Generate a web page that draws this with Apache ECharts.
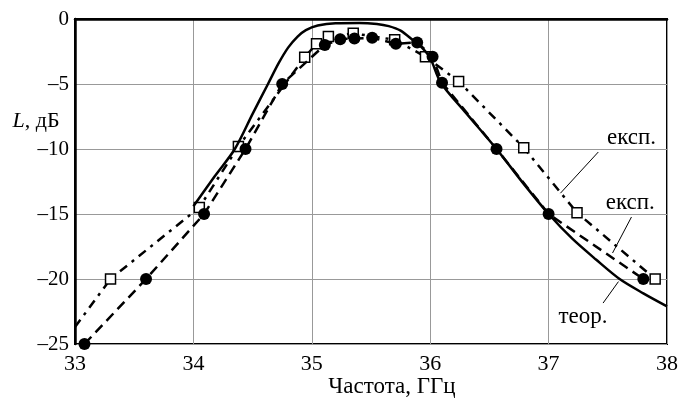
<!DOCTYPE html>
<html><head><meta charset="utf-8">
<script src="https://cdn.jsdelivr.net/npm/echarts@6/dist/echarts.min.js"></script>
<style>html,body{margin:0;padding:0;background:#fff}#c{width:685px;height:403px}</style>
</head><body><div id="c"></div>
<script>
// Theory curve (solid)
const theoryF = [34.0,34.18,34.35,34.5,34.63,34.72,34.8,34.88,34.95,35.05,35.2,35.4,35.55,35.65,35.75,35.85,35.93,36.0,36.09,36.3,36.56,36.8,37.0,37.2,37.4,37.6,37.8,38.0];
const theoryL = [-14.4,-12.1,-10,-7.3,-5,-3.4,-2.2,-1.35,-0.85,-0.5,-0.32,-0.3,-0.38,-0.55,-0.9,-1.6,-2.2,-3.0,-4.9,-7.2,-10,-12.8,-15,-16.9,-18.5,-20,-21.1,-22.1];
// Experiment 1 (filled circles, dashed)
const exp1F = [33.08,33.6,34.09,34.44,34.75,35.11,35.24,35.36,35.51,35.71,35.89,36.02,36.1,36.56,37.0,37.8];
const exp1L = [-25,-20,-15,-10,-5,-2.0,-1.55,-1.5,-1.45,-1.9,-1.8,-2.9,-4.9,-10,-15,-20];
// Experiment 2 (open squares, dash-dot)
const exp2F = [33.0,33.3,34.05,34.38,34.94,35.04,35.14,35.35,35.7,35.96,36.24,36.79,37.24,37.9];
const exp2L = [-23.7,-20,-14.5,-9.8,-2.95,-1.9,-1.35,-1.1,-1.6,-2.9,-4.8,-9.9,-14.9,-20];
const exp2Sym = [false,true,true,true,true,true,true,true,true,true,true,true,true,true];
const xTicks = [33,34,35,36,37,38];
const yTicks = [0,-5,-10,-15,-20,-25];
// annotations: [text, textF, textL, leaderF1, leaderL1, leaderF2, leaderL2]
const notes = [
  ['експ.', 37.70, -9.15, 37.42, -10.23, 37.10, -13.4],
  ['експ.', 37.69, -14.15, 37.70, -15.23, 37.54, -18.0],
  ['теор.', 37.29, -22.9, 37.59, -20.2, 37.46, -21.85]
];

const font = '"Liberation Serif","Times New Roman",serif';
const zip = (a,b)=>a.map((v,i)=>[v,b[i]]);
const chart = echarts.init(document.getElementById('c'));
const series = [
  {type:'line', data: exp2F.map((f,i)=>({value:[f,exp2L[i]], symbol: exp2Sym[i]?'rect':'none'})),
   symbol:'rect', symbolSize:10, showAllSymbol:true,
   itemStyle:{color:'#fff', borderColor:'#000', borderWidth:1.5},
   lineStyle:{color:'#000', width:2.5, type:[9,6,3,6]}, z:3},
  {type:'line', data: zip(exp1F,exp1L), symbol:'circle', symbolSize:12, showAllSymbol:true,
   itemStyle:{color:'#000', borderColor:'#000', borderWidth:0},
   lineStyle:{color:'#000', width:2.5, type:[10,6]}, z:4},
  {type:'line', data: zip(theoryF,theoryL), symbol:'none', smooth:0.3,
   lineStyle:{color:'#000', width:2.5}, z:5}
];
notes.forEach(n=>{
  series.push({type:'line', data:[[n[3],n[4]],[n[5],n[6]]], symbol:'none', lineStyle:{color:'#000', width:1}, z:2, silent:true});
});
chart.setOption({
  animation:false,
  backgroundColor:'#fff',
  grid:{left:75, right:18, top:19, bottom:59, show:true, borderColor:'#000', borderWidth:2, backgroundColor:'transparent'},
  xAxis:{type:'value', min:33, max:38, interval:1,
    axisLine:{show:true, lineStyle:{color:'#000', width:2.5}},
    axisTick:{show:false},
    axisLabel:{color:'#000', fontFamily:font, fontSize:22, margin:9, formatter:v=>xTicks.includes(v)?String(v):''},
    splitLine:{show:true, lineStyle:{color:'#999', width:1}}},
  yAxis:{type:'value', min:-25, max:0, interval:5,
    axisLine:{show:true, lineStyle:{color:'#000', width:2.5}},
    axisTick:{show:false},
    axisLabel:{color:'#000', fontFamily:font, fontSize:21, margin:6, formatter:v=>yTicks.includes(v)?(v<0?'\u2013'+(-v):String(v)):''},
    splitLine:{show:true, lineStyle:{color:'#999', width:1}}},
  series: series
});
const g = [];
notes.forEach(n=>{
  const p = chart.convertToPixel({gridIndex:0},[n[1],n[2]]);
  g.push({type:'text', x:p[0], y:p[1], style:{text:n[0], font:'23px '+font, fill:'#000', align:'center', verticalAlign:'middle'}, z:10});
});
g.push({type:'text', x:36, y:121, style:{rich:{i:{fontStyle:'italic', fontFamily:font, fontSize:22, fill:'#000'}, n:{fontFamily:font, fontSize:22, fill:'#000'}}, text:'{i|L}{n|, дБ}', align:'center', verticalAlign:'middle'}, z:10});
g.push({type:'text', x:392, y:387, style:{text:'Частота, ГГц', font:'23px '+font, fill:'#000', align:'center', verticalAlign:'middle'}, z:10});
chart.setOption({graphic:g});
</script></body></html>
